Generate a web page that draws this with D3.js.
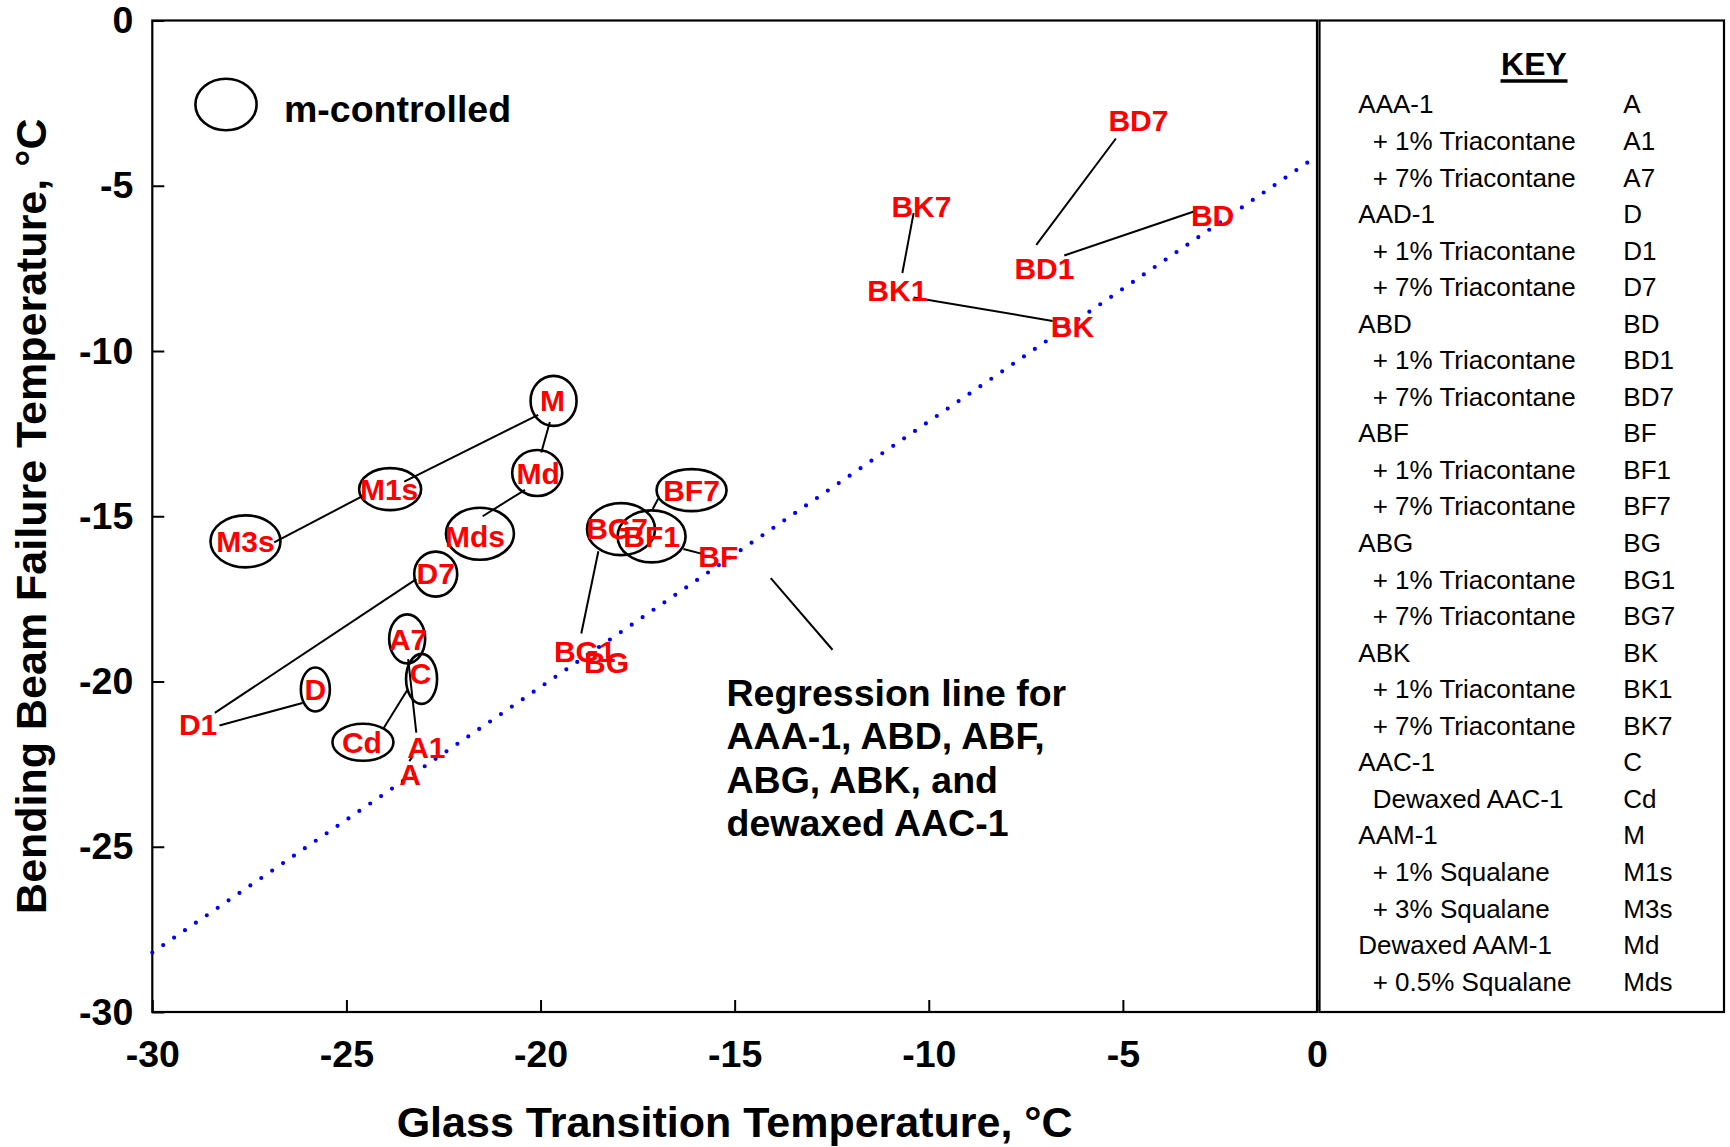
<!DOCTYPE html>
<html>
<head>
<meta charset="utf-8">
<script src="https://cdn.jsdelivr.net/npm/d3@7"></script>
<style>
    body { margin: 0; background: #fff; }
    text { font-family: "Liberation Sans", Arial, sans-serif; }
</style>
</head>
<body>
<div id="chart"></div>
<script>
// sample codes and their glass transition / bending beam failure temperatures (°C)
const codes = ["BD7", "BK7", "BD1", "BD", "BK1", "BK", "M", "Md", "M1s", "Mds", "M3s",
    "BF7", "BG7", "BF1", "BF", "D7", "A7", "C", "D", "D1", "Cd", "A1", "A", "BG1", "BG"];
const tg = [-4.60, -10.19, -7.02, -2.69, -10.81, -6.30, -19.69, -20.06, -23.90, -21.69, -27.60,
    -16.11, -18.03, -17.14, -15.42, -22.70, -23.41, -23.09, -25.80, -28.82, -24.60, -22.94, -23.36, -18.86, -18.30];
const bbft = [-3.03, -5.63, -7.49, -5.88, -8.15, -9.26, -11.48, -13.69, -14.18, -15.59, -15.76,
    -14.21, -15.36, -15.61, -16.22, -16.72, -18.71, -19.74, -20.24, -21.30, -21.84, -21.98, -22.79, -19.07, -19.43];

// m-controlled samples (circled)
const mControlled = ["M", "Md", "M1s", "Mds", "M3s", "BF7", "BG7", "BF1", "D7", "A7", "C", "D", "Cd"];

// regression line end points
const regX = [-30, 0];
const regY = [-28.2, -4.1];

// connector lines between related samples [x1, y1, x2, y2]
const links = [
    [-5.18, -3.57, -7.23, -6.79],
    [-6.51, -7.11, -3.17, -5.78],
    [-10.39, -5.83, -10.68, -7.64],
    [-10.39, -8.38, -6.81, -9.09],
    [-20.06, -11.93, -23.51, -13.95],
    [-19.76, -12.15, -19.98, -13.07],
    [-24.60, -14.40, -26.86, -15.79],
    [-20.40, -14.20, -21.49, -15.00],
    [-23.20, -16.90, -28.39, -20.95],
    [-26.13, -20.65, -28.27, -21.33],
    [-23.44, -20.27, -24.05, -21.43],
    [-23.41, -19.32, -23.20, -21.55],
    [-23.29, -22.26, -23.38, -22.41],
    [-18.51, -16.06, -18.95, -18.55],
    [-16.97, -14.47, -17.11, -14.78],
    [-16.32, -15.99, -15.86, -16.13],
    [-14.07, -16.87, -12.48, -19.04]
];

const ticks = [-30, -25, -20, -15, -10, -5, 0];

const keyRows = [
    ["AAA-1", "A", 0], ["+ 1% Triacontane", "A1", 1], ["+ 7% Triacontane", "A7", 1],
    ["AAD-1", "D", 0], ["+ 1% Triacontane", "D1", 1], ["+ 7% Triacontane", "D7", 1],
    ["ABD", "BD", 0], ["+ 1% Triacontane", "BD1", 1], ["+ 7% Triacontane", "BD7", 1],
    ["ABF", "BF", 0], ["+ 1% Triacontane", "BF1", 1], ["+ 7% Triacontane", "BF7", 1],
    ["ABG", "BG", 0], ["+ 1% Triacontane", "BG1", 1], ["+ 7% Triacontane", "BG7", 1],
    ["ABK", "BK", 0], ["+ 1% Triacontane", "BK1", 1], ["+ 7% Triacontane", "BK7", 1],
    ["AAC-1", "C", 0], ["Dewaxed AAC-1", "Cd", 1],
    ["AAM-1", "M", 0], ["+ 1% Squalane", "M1s", 1], ["+ 3% Squalane", "M3s", 1],
    ["Dewaxed AAM-1", "Md", 0], ["+ 0.5% Squalane", "Mds", 1]
];

// ellipse shape around each circled label: [rx, ry, dx, dy] in px
const ringShape = {
    M: [23, 25, 1, 1], Md: [25, 23, -1, 0], M1s: [31, 21, 1, 0], Mds: [34, 26, 5, -2],
    M3s: [35, 26, 0, 0], BF7: [35, 21, 0, 0], BG7: [34, 26, 4, 1], BF1: [34, 26, 0, 0],
    D7: [21.5, 22.5, 0, 1], A7: [18, 24.5, -1, 0], C: [15.5, 25, 1, 6], D: [14.5, 22, 0, 0],
    Cd: [30.5, 18.5, 1, 0]
};

const W = 1730, H = 1147;
const frame = { left: 152.3, right: 1317, top: 20.5, bottom: 1012 };

const svg = d3.select("#chart").append("svg")
    .attr("width", W)
    .attr("height", H);

const x = d3.scaleLinear().domain([-30, 0]).range([frame.left, frame.right]);
const y = d3.scaleLinear().domain([-30, 0]).range([frame.bottom, frame.top]);

// axes with inward ticks
const xAxis = svg.append("g")
    .attr("transform", `translate(0,${frame.bottom})`)
    .call(d3.axisBottom(x).tickValues(ticks).tickSize(-12).tickPadding(28).tickFormat(d => String(d)));
const yAxis = svg.append("g")
    .attr("transform", `translate(${frame.left},0)`)
    .call(d3.axisLeft(y).tickValues(ticks).tickSize(-12).tickPadding(19).tickFormat(d => String(d)));

[xAxis, yAxis].forEach(g => {
    g.select(".domain").remove();
    g.selectAll(".tick line").attr("stroke", "#000").attr("stroke-width", 2);
    g.selectAll(".tick text")
        .attr("fill", "#000")
        .style("font-size", "37.5px")
        .style("font-weight", "bold")
        .style("font-family", "'Liberation Sans', Arial, sans-serif");
});

// plot frame
svg.append("rect")
    .attr("x", frame.left).attr("y", frame.top)
    .attr("width", frame.right - frame.left).attr("height", frame.bottom - frame.top)
    .attr("fill", "none").attr("stroke", "#000").attr("stroke-width", 2.2);

// axis titles
svg.append("text")
    .attr("x", (frame.left + frame.right) / 2).attr("y", 1137)
    .attr("text-anchor", "middle")
    .style("font-size", "43px").style("font-weight", "bold")
    .text("Glass Transition Temperature, °C");

svg.append("text")
    .attr("transform", `translate(46,${(frame.top + frame.bottom) / 2}) rotate(-90)`)
    .attr("text-anchor", "middle")
    .style("font-size", "43px").style("font-weight", "bold")
    .text("Bending Beam Failure Temperature, °C");

// regression line (dotted blue)
svg.append("line")
    .attr("x1", x(regX[0])).attr("y1", y(regY[0]))
    .attr("x2", x(regX[1])).attr("y2", y(regY[1]))
    .attr("stroke", "#0000ff")
    .attr("stroke-width", 4.2)
    .attr("stroke-linecap", "round")
    .attr("stroke-dasharray", "0 13.2");

// connector lines
svg.append("g").selectAll("line")
    .data(links)
    .enter().append("line")
    .attr("x1", d => x(d[0])).attr("y1", d => y(d[1]))
    .attr("x2", d => x(d[2])).attr("y2", d => y(d[3]))
    .attr("stroke", "#000")
    .attr("stroke-width", 2);

const points = codes.map((c, i) => ({ code: c, tg: tg[i], bbft: bbft[i] }));

// rings around m-controlled samples
svg.append("g").selectAll("ellipse")
    .data(points.filter(d => mControlled.includes(d.code)))
    .enter().append("ellipse")
    .attr("cx", d => x(d.tg) + ringShape[d.code][2])
    .attr("cy", d => y(d.bbft) + ringShape[d.code][3])
    .attr("rx", d => ringShape[d.code][0])
    .attr("ry", d => ringShape[d.code][1])
    .attr("fill", "none")
    .attr("stroke", "#000")
    .attr("stroke-width", 2.6);

// sample labels as the markers
svg.append("g").selectAll("text")
    .data(points)
    .enter().append("text")
    .attr("x", d => x(d.tg))
    .attr("y", d => y(d.bbft))
    .attr("dy", "0.36em")
    .attr("text-anchor", "middle")
    .attr("fill", "#ff0000")
    .style("font-size", "30px")
    .style("font-weight", "bold")
    .text(d => d.code);

// legend ring
svg.append("ellipse")
    .attr("cx", 226).attr("cy", 104.5)
    .attr("rx", 30.6).attr("ry", 25.8)
    .attr("fill", "none").attr("stroke", "#000").attr("stroke-width", 2.6);
svg.append("text")
    .attr("x", 284).attr("y", 121.7)
    .style("font-size", "37.5px").style("font-weight", "bold")
    .text("m-controlled");

// regression callout
const note = ["Regression line for", "AAA-1, ABD, ABF,", "ABG, ABK, and", "dewaxed AAC-1"];
svg.append("text")
    .attr("x", 726.5).attr("y", 706)
    .style("font-size", "37.5px").style("font-weight", "bold")
    .selectAll("tspan")
    .data(note)
    .enter().append("tspan")
    .attr("x", 726.5)
    .attr("dy", (d, i) => i === 0 ? 0 : 43.3)
    .text(d => d);

// key box
const keyLeft = 1319.5, keyRight = 1724;
svg.append("rect")
    .attr("x", keyLeft).attr("y", frame.top)
    .attr("width", keyRight - keyLeft).attr("height", frame.bottom - frame.top)
    .attr("fill", "none").attr("stroke", "#000").attr("stroke-width", 2.2);

svg.append("text")
    .attr("x", 1534).attr("y", 75)
    .attr("text-anchor", "middle")
    .style("font-size", "32px").style("font-weight", "bold")
    .text("KEY");
svg.append("line")
    .attr("x1", 1500.5).attr("x2", 1567.5)
    .attr("y1", 81).attr("y2", 81)
    .attr("stroke", "#000").attr("stroke-width", 3.4);

const keyY = d3.scaleLinear().domain([0, keyRows.length - 1]).range([113.4, 990.6]);
const keyG = svg.append("g").style("font-size", "26px");
keyG.selectAll(".kname")
    .data(keyRows)
    .enter().append("text")
    .attr("class", "kname")
    .attr("x", d => d[2] ? 1372.7 : 1358.3)
    .attr("y", (d, i) => keyY(i))
    .text(d => d[0]);
keyG.selectAll(".kcode")
    .data(keyRows)
    .enter().append("text")
    .attr("class", "kcode")
    .attr("x", 1623.3)
    .attr("y", (d, i) => keyY(i))
    .text(d => d[1]);
</script>
</body>
</html>
